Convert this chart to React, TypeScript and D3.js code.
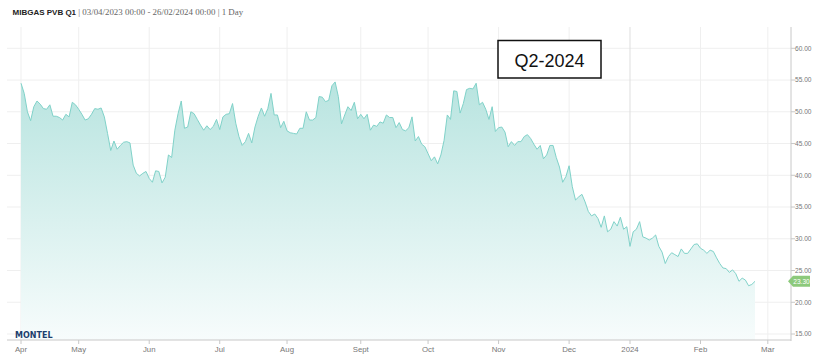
import React from "react";
import * as d3 from "d3";

// ---- data ----
const firstSession = "2023-04-03";
const holidays = ["2023-04-07", "2023-04-10", "2023-05-01", "2023-12-25", "2023-12-26", "2024-01-01"];

// daily settlement values, one per trading session from 03/04/2023 to 26/02/2024
const prices = [
  54.5, 52.9, 50.0, 48.6, 50.8, 51.7, 51.2, 50.5, 50.4, 51.1,
  49.3, 49.3, 49.1, 48.7, 49.6, 49.2, 51.5, 51.1, 50.4, 49.6,
  48.7, 48.9, 49.6, 50.5, 50.4, 50.6, 49.2, 46.6, 43.9, 45.4,
  44.1, 44.7, 45.2, 45.3, 45.1, 41.6, 40.3, 39.9, 40.3, 40.6,
  39.5, 38.9, 40.7, 40.6, 38.8, 39.7, 43.2, 42.8, 47.1, 49.7,
  51.7, 47.4, 47.6, 50.0, 49.7, 48.8, 47.9, 47.1, 47.8, 47.2,
  47.7, 48.8, 47.2, 49.2, 49.6, 49.7, 51.3, 48.2, 46.1, 44.7,
  45.3, 46.6, 45.1, 47.6, 49.3, 50.6, 49.3, 50.5, 52.9, 49.5,
  49.5, 47.5, 48.5, 47.0, 46.7, 46.6, 46.5, 47.4, 47.4, 50.0,
  48.7, 48.7, 49.1, 52.4, 52.3, 51.6, 51.8, 54.1, 54.7, 52.4,
  48.1, 49.5, 50.8, 50.2, 51.5, 48.9, 49.6, 48.9, 49.6, 47.1,
  47.9, 47.7, 48.4, 48.2, 49.5, 49.1, 49.1, 47.5, 48.3, 47.2,
  47.0, 47.5, 49.2, 45.4, 46.1, 44.9, 44.5, 43.4, 42.3, 42.9,
  41.8, 43.2, 45.5, 49.5, 48.8, 53.3, 53.2, 49.8, 51.3, 53.5,
  53.7, 53.6, 54.5, 51.1, 51.5, 50.4, 48.8, 50.8, 46.9, 47.5,
  47.6, 46.8, 44.5, 45.3, 44.7, 45.3, 45.3, 46.1, 46.4, 45.8,
  44.9, 44.1, 44.7, 42.6, 43.2, 44.7, 44.7, 42.8, 41.3, 38.9,
  39.8, 41.5, 38.2, 36.1, 36.6, 37.0, 35.8, 34.3, 33.6, 33.9,
  33.2, 31.8, 33.6, 31.1, 31.5, 32.7, 32.0, 33.4, 31.5, 31.9,
  28.8, 31.1, 31.5, 32.7, 30.3, 30.1, 29.8, 30.1, 30.6, 28.8,
  27.9, 26.1, 27.2, 27.8, 27.5, 27.2, 28.4, 27.7, 27.7, 28.4,
  29.1, 29.2, 28.5, 28.2, 27.7, 28.2, 28.0, 27.0, 26.1, 25.4,
  25.3, 24.7, 25.1, 24.5, 23.3, 23.8, 23.5, 22.6, 22.8, 23.3,
];

const monthStarts = [
  "2023-04-01", "2023-05-01", "2023-06-01", "2023-07-01", "2023-08-01", "2023-09-01",
  "2023-10-01", "2023-11-01", "2023-12-01", "2024-01-01", "2024-02-01", "2024-03-01",
];
const monthLabels = ["Apr", "May", "Jun", "Jul", "Aug", "Sept", "Oct", "Nov", "Dec", "2024", "Feb", "Mar"];
const yTicks = [15, 20, 25, 30, 35, 40, 45, 50, 55, 60];

const titleBold = "MIBGAS PVB Q1";
const titleRest = " | 03/04/2023 00:00 - 26/02/2024 00:00 | 1 Day";
const boxLabel = "Q2-2024";

// ---- helpers ----
function buildSessions(startISO: string, untilISO: string): string[] {
  const out: string[] = [];
  let d = new Date(startISO + "T00:00:00Z");
  const until = new Date(untilISO + "T00:00:00Z");
  while (d <= until) {
    const wd = d.getUTCDay();
    const iso = d.toISOString().slice(0, 10);
    if (wd !== 0 && wd !== 6 && !holidays.includes(iso)) out.push(iso);
    d = new Date(d.getTime() + 86400000);
  }
  return out;
}

export default function App() {
  const W = 818, H = 364;
  const plotLeft = 7, plotRight = 791, plotTop = 27, plotBottom = 340;

  const sessions = buildSessions(firstSession, monthStarts[monthStarts.length - 1]);
  const x = d3.scaleLinear().domain([0, prices.length - 1]).range([21, 755]);
  const y = d3.scaleLinear().domain([15, 60]).range([334, 48.3]);

  const idx = prices.map((_, i) => i);
  const area = d3.area<number>().x((i) => x(i)).y0(plotBottom).y1((i) => y(prices[i]))(idx) || "";
  const line = d3.line<number>().x((i) => x(i)).y((i) => y(prices[i]))(idx) || "";

  const ticks = monthStarts.map((m, k) => ({
    label: monthLabels[k],
    i: sessions.findIndex((s) => s >= m),
  }));

  const last = prices[prices.length - 1];
  const ly = y(last);
  const narrow = "'Liberation Sans Narrow', 'Arial Narrow', 'Liberation Sans', Arial, sans-serif";

  return (
    <svg width={W} height={H} style={{ position: "absolute", left: 0, top: 0, background: "#fff" }}>
      <defs>
        <linearGradient id="fillGrad" gradientUnits="userSpaceOnUse" x1="0" y1={48} x2="0" y2={plotBottom}>
          <stop offset="0" stopColor="#b0e1dc" />
          <stop offset="1" stopColor="#f7fcfc" />
        </linearGradient>
      </defs>
      <rect x={0} y={0} width={W} height={H} fill="#fff" />

      {/* title */}
      <text x={12.5} y={15.3} fill="#333">
        <tspan fontSize={8} fontFamily="'Liberation Sans', Arial, sans-serif" fontWeight="bold" fill="#222">{titleBold}</tspan>
        <tspan fontSize={8.9} fontFamily="'Liberation Serif', Georgia, serif" fill="#666">{titleRest}</tspan>
      </text>

      {/* horizontal gridlines */}
      {yTicks.map((t) => (
        <line key={"h" + t} x1={plotLeft} x2={plotRight} y1={y(t)} y2={y(t)} stroke="#efefef" strokeWidth={1} />
      ))}
      {/* vertical gridlines */}
      {ticks.map((t) => (
        <line
          key={"v" + t.label}
          x1={x(t.i)}
          x2={x(t.i)}
          y1={plotTop}
          y2={plotBottom}
          stroke={t.label === "2024" ? "#dedede" : "#efefef"}
          strokeWidth={1}
        />
      ))}

      {/* series */}
      <path d={area} fill="url(#fillGrad)" />
      <path d={line} fill="none" stroke="#80d2c9" strokeWidth={1} />

      {/* axes */}
      <line x1={plotRight} x2={plotRight} y1={plotTop} y2={plotBottom + 1} stroke="#c8c8c8" />
      <line x1={plotLeft} x2={plotRight} y1={plotBottom} y2={plotBottom} stroke="#c8c8c8" />
      {yTicks.map((t) => (
        <g key={"yt" + t}>
          <line x1={plotRight} x2={plotRight + 4} y1={y(t)} y2={y(t)} stroke="#c8c8c8" />
          <text x={plotRight + 4} y={y(t) + 2.4} fontSize={6.6} fill="#777" fontFamily={narrow}>
            {t.toFixed(2)}
          </text>
        </g>
      ))}
      {ticks.map((t) => (
        <g key={"xt" + t.label}>
          <line x1={x(t.i)} x2={x(t.i)} y1={plotBottom} y2={plotBottom + 4} stroke="#c8c8c8" />
          <text x={x(t.i)} y={352} fontSize={7.8} fill="#777" textAnchor="middle" fontFamily={narrow}>
            {t.label}
          </text>
        </g>
      ))}

      {/* last value flag */}
      <path
        d={`M${plotRight - 3},${ly} L${plotRight + 2},${ly - 5.5} L${plotRight + 19},${ly - 5.5} L${plotRight + 19},${ly + 5.5} L${plotRight + 2},${ly + 5.5} Z`}
        fill="#8cc97b"
      />
      <text x={plotRight + 10.5} y={ly + 2.4} fontSize={6.6} fill="#fff" textAnchor="middle" fontFamily={narrow}>
        {last.toFixed(2)}
      </text>

      {/* logo */}
      <text x={15} y={338} fontSize={8} fontWeight="bold" fill="#1d3f6e" fontFamily="'DejaVu Sans', Verdana, sans-serif">
        MONTEL
      </text>

      {/* annotation box */}
      <rect x={498} y={40.5} width={103} height={37.5} fill="#fff" stroke="#111" strokeWidth={1.5} />
      <text x={549.5} y={67.3} fontSize={18} fill="#111" textAnchor="middle" fontFamily="'Liberation Sans', Arial, sans-serif">
        {boxLabel}
      </text>
    </svg>
  );
}
